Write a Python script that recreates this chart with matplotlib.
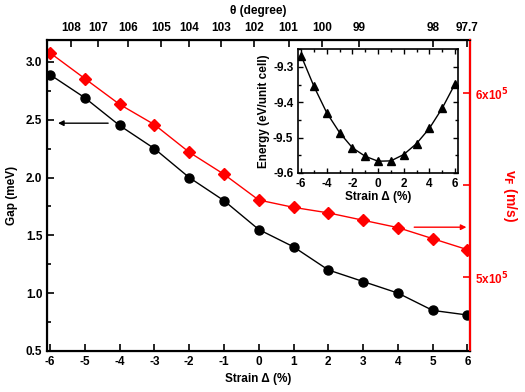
import numpy as np
import matplotlib
matplotlib.use("Agg")
import matplotlib.pyplot as plt
from matplotlib.ticker import MultipleLocator

plt.rcParams["font.family"] = ["Liberation Sans", "DejaVu Sans"]
plt.rcParams["font.weight"] = "bold"
plt.rcParams["mathtext.default"] = "bf"
plt.rcParams["axes.unicode_minus"] = False

# data
strain = [-6, -5, -4, -3, -2, -1, 0, 1, 2, 3, 4, 5, 6]
gap = [2.89, 2.69, 2.45, 2.25, 2.00, 1.80, 1.55, 1.40, 1.20, 1.10, 1.00, 0.85, 0.81]
vf = [6.22, 6.08, 5.94, 5.83, 5.68, 5.56, 5.42, 5.38, 5.35, 5.31, 5.27, 5.21, 5.15]  # x10^5 m/s
energy = [-9.268, -9.355, -9.430, -9.486, -9.529, -9.553, -9.567,
          -9.566, -9.548, -9.517, -9.474, -9.417, -9.348]
theta_labels = ["108", "107", "106", "105", "104", "103", "102", "101",
                "100", "99", "98", "97.7"]
theta_pos = [-5.39, -4.62, -3.77, -2.81, -2.0, -1.09, -0.13, 0.86,
             1.81, 2.89, 5.0, 6.0]

fig = plt.figure(figsize=(5.25, 3.92), dpi=100)
ax = fig.add_axes([0.090, 0.105, 0.805, 0.793])
axr = ax.twinx()
axt = ax.twiny()

fs = 8.5

# gap (left)
ax.plot(strain, gap, color="black", lw=1.0, marker="o", ms=6.5, zorder=3)
ax.set_xlim(-6.08, 6.07)
ax.set_ylim(0.5, 3.19)
ax.set_xticks(strain)
ax.set_yticks([0.5, 1.0, 1.5, 2.0, 2.5, 3.0])
ax.yaxis.set_minor_locator(MultipleLocator(0.25))
ax.tick_params(axis="both", which="both", direction="in", labelsize=fs, width=1.2)
ax.tick_params(axis="both", which="major", length=5)
ax.tick_params(axis="y", which="minor", length=3)
ax.set_xlabel("Strain Δ (%)", fontsize=fs, fontweight="bold", labelpad=4)
ax.set_ylabel("Gap (meV)", fontsize=fs, fontweight="bold", labelpad=6)
for s in ax.spines.values():
    s.set_linewidth(1.5)

# v_F (right)
axr.plot(strain, vf, color="red", lw=1.0, marker="D", ms=6, zorder=3)
axr.set_ylim(4.60, 6.29)
axr.set_yticks([5, 6])
axr.set_yticklabels([r"5x10$^{5}$", r"6x10$^{5}$"])
axr.yaxis.set_minor_locator(MultipleLocator(0.5))
axr.tick_params(axis="y", which="both", direction="in", colors="red",
                labelsize=fs, width=1.2)
axr.tick_params(axis="y", which="major", length=5)
axr.tick_params(axis="y", which="minor", length=5)
axr.set_ylabel(r"v$_F$ (m/s)", color="red", fontsize=10, fontweight="bold",
               rotation=270, labelpad=8)
for s in axr.spines.values():
    s.set_linewidth(1.5)
axr.spines["right"].set_color("red")

# theta (top)
axt.set_xlim(ax.get_xlim())
axt.set_xticks(theta_pos)
axt.set_xticklabels(theta_labels)
axt.tick_params(axis="x", direction="in", length=5, width=1.2, labelsize=fs, pad=4)
axt.set_xlabel("θ (degree)", fontsize=fs, fontweight="bold", labelpad=6)
axt.spines["right"].set_color("red")
axt.spines["right"].set_linewidth(1.5)

# arrows
ax.annotate("", xy=(-5.85, 2.47), xytext=(-4.25, 2.47),
            arrowprops=dict(arrowstyle="-|>", color="black", lw=1.0,
                            mutation_scale=8))
ax.annotate("", xy=(6.05, 1.57), xytext=(4.39, 1.57),
            arrowprops=dict(arrowstyle="-|>", color="red", lw=1.0,
                            mutation_scale=8), zorder=5)

# inset
axi = fig.add_axes([0.568, 0.559, 0.305, 0.316])
axi.plot(strain, energy, color="black", lw=1.0, marker="^", ms=6)
axi.set_xlim(-6.23, 6.26)
axi.set_ylim(-9.6, -9.249)
axi.set_xticks([-6, -4, -2, 0, 2, 4, 6])
axi.set_yticks([-9.6, -9.5, -9.4, -9.3])
axi.xaxis.set_minor_locator(MultipleLocator(1))
axi.yaxis.set_minor_locator(MultipleLocator(0.05))
axi.tick_params(axis="both", which="both", direction="in", top=True, right=True,
                labelsize=fs, width=1.0)
axi.tick_params(axis="both", which="major", length=3.5)
axi.tick_params(axis="both", which="minor", length=2)
axi.set_xlabel("Strain Δ (%)", fontsize=fs, fontweight="bold", labelpad=1)
axi.set_ylabel("Energy (eV/unit cell)", fontsize=fs, fontweight="bold", labelpad=2)
for s in axi.spines.values():
    s.set_linewidth(1.2)

for a in (ax, axr, axt, axi):
    for lab in a.get_xticklabels() + a.get_yticklabels():
        lab.set_fontweight("bold")

fig.savefig("out.png", dpi=100, facecolor="white")
